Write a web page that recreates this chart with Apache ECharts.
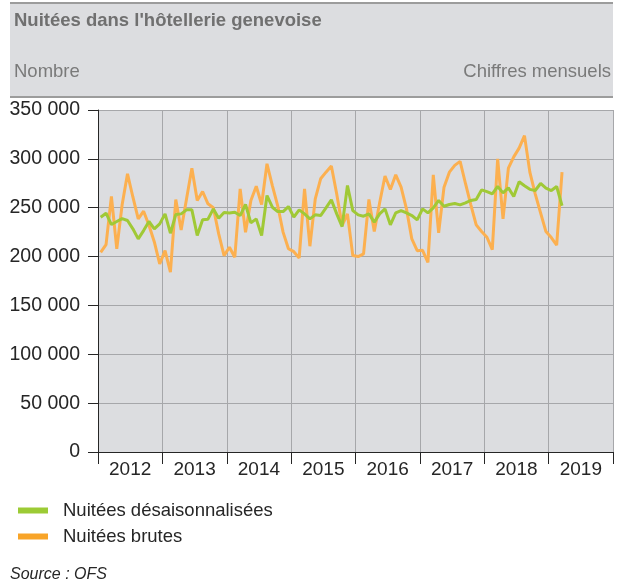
<!DOCTYPE html>
<html>
<head>
<meta charset="utf-8">
<script src="https://cdn.jsdelivr.net/npm/echarts@6/dist/echarts.min.js"></script>
<style>
  html, body { margin: 0; padding: 0; background: #fff; }
  #chart { width: 622px; height: 582px; }
</style>
</head>
<body>
<div id="chart"></div>
<script>
// years shown on the x axis, data is monthly from Jan 2012 to Mar 2019
var years = ['2012', '2013', '2014', '2015', '2016', '2017', '2018', '2019']

// Nuitées désaisonnalisées (green)
var desaison = [
  240300, 244400, 232800, 235900, 238900, 236900, 228400, 218100, 226600, 235900, 228400, 233500,
  243700, 223900, 243000, 243700, 247800, 247800, 221500, 237600, 238300, 248800, 239300, 245100,
  244700, 245400, 242000, 253300, 234500, 238600, 221500, 262500, 250500, 246000, 246000, 251200,
  240300, 247800, 243700, 238600, 242700, 242000, 249900, 258000, 243700, 230700, 272700, 247000,
  242700, 241300, 243700, 235200, 243700, 248800, 232500, 244700, 247100, 244700, 242000, 237600,
  248800, 244700, 249900, 257400, 251500, 253300, 254300, 252900, 255000, 257400, 258400, 268200,
  266500, 264200, 271700, 265200, 270300, 261400, 276500, 272400, 268800, 267600, 274800, 270000,
  267600, 271700, 252000
]

// Nuitées brutes (orange)
var brutes = [
  204400, 212300, 261500, 207900, 253000, 284700, 261000, 238600, 246400, 232000, 215000, 192500,
  206100, 184000, 258400, 227300, 259000, 290500, 257400, 266600, 254000, 249900, 223200, 201000,
  209600, 199300, 269300, 224900, 257400, 272000, 253300, 295000, 272700, 252000, 225000, 208000,
  205000, 198600, 269300, 210600, 259000, 279600, 286400, 292600, 264000, 231800, 243700, 201000,
  200000, 202700, 258400, 225600, 255000, 282400, 268600, 283700, 271000, 248800, 218000, 206000,
  206400, 194100, 283700, 224200, 271000, 286400, 293300, 297400, 274800, 253000, 232500, 225600,
  219800, 207100, 300100, 238600, 290600, 302000, 311000, 323800, 286400, 264200, 244700, 225600,
  219400, 211800, 286400
]

var months = []
for (var i = 0; i < years.length; i++) {
  for (var m = 1; m <= 12; m++) {
    months.push(years[i] + '-' + (m < 10 ? '0' + m : m))
  }
}

var gridColor = '#a6a7aa'
var textColor = '#262626'
var fontName = '"Liberation Sans", Arial, sans-serif'

function fmt(v) {
  return String(v).replace(/\B(?=(\d{3})+(?!\d))/g, ' ')
}

var chart = echarts.init(document.getElementById('chart'), null, { renderer: 'canvas' })

var option = {
  animation: false,
  textStyle: { fontFamily: fontName },
  graphic: [
    { type: 'rect', z: 0, shape: { x: 10, y: 3, width: 603, height: 94 }, style: { fill: '#dcdde0' } },
    { type: 'line', z: 1, shape: { x1: 10, y1: 3, x2: 613, y2: 3 }, style: { stroke: '#9c9c9c', lineWidth: 2 } },
    { type: 'line', z: 1, shape: { x1: 10, y1: 97, x2: 613, y2: 97 }, style: { stroke: '#9c9c9c', lineWidth: 2 } }
  ],
  title: [
    {
      text: "Nuitées dans l'hôtellerie genevoise",
      left: 14, top: 11, padding: 0,
      textStyle: { fontFamily: fontName, fontSize: 18.5, fontWeight: 'bold', color: '#707070' }
    },
    {
      text: 'Nombre',
      left: 14, top: 62, padding: 0,
      textStyle: { fontFamily: fontName, fontSize: 18.5, fontWeight: 'normal', color: '#7a7a7a' }
    },
    {
      text: 'Chiffres mensuels',
      right: 11, top: 62, padding: 0,
      textStyle: { fontFamily: fontName, fontSize: 18.5, fontWeight: 'normal', color: '#7a7a7a' }
    },
    {
      text: 'Source : OFS',
      left: 10, top: 567, padding: 0,
      textStyle: { fontFamily: fontName, fontSize: 16, fontWeight: 'normal', fontStyle: 'italic', color: textColor }
    }
  ],
  legend: {
    orient: 'vertical',
    left: 18, top: 501,
    padding: 0,
    itemWidth: 30, itemHeight: 6, itemGap: 7,
    icon: 'rect',
    textStyle: { fontFamily: fontName, fontSize: 18.5, color: textColor, padding: [0, 0, 0, 10] },
    data: [
      { name: 'Nuitées désaisonnalisées', itemStyle: { color: '#9ccb35' } },
      { name: 'Nuitées brutes', itemStyle: { color: '#f8a428' } }
    ]
  },
  grid: {
    left: 98, top: 110, width: 515, height: 342,
    show: true, backgroundColor: '#dcdde0', borderWidth: 0
  },
  xAxis: [
    {
      type: 'category',
      data: months,
      boundaryGap: true,
      axisLine: { show: true, lineStyle: { color: textColor, width: 1 } },
      axisTick: { show: false },
      axisLabel: { show: false },
      splitLine: { show: false }
    },
    {
      type: 'category',
      data: years,
      boundaryGap: true,
      position: 'bottom',
      axisLine: { show: false },
      axisTick: { show: true, length: 12, lineStyle: { color: textColor } },
      axisLabel: { fontFamily: fontName, fontSize: 19, color: textColor, margin: 8 },
      splitLine: { show: true, lineStyle: { color: gridColor, width: 1 } }
    }
  ],
  yAxis: {
    type: 'value',
    min: 0, max: 350000, interval: 50000,
    axisLine: { show: true, lineStyle: { color: textColor, width: 1 } },
    axisTick: { show: true, length: 10, lineStyle: { color: textColor } },
    axisLabel: { fontFamily: fontName, fontSize: 19.5, color: textColor, margin: 18, formatter: fmt },
    splitLine: { show: true, lineStyle: { color: gridColor, width: 1 } }
  },
  series: [
    {
      name: 'Nuitées désaisonnalisées',
      type: 'line',
      xAxisIndex: 0,
      data: desaison,
      symbol: 'none',
      lineStyle: { color: '#a0c936', width: 3 },
      itemStyle: { color: '#a0c936' },
      z: 3
    },
    {
      name: 'Nuitées brutes',
      type: 'line',
      xAxisIndex: 0,
      data: brutes,
      symbol: 'none',
      lineStyle: { color: '#fcb050', width: 3 },
      itemStyle: { color: '#fcb050' },
      z: 2
    }
  ]
}

chart.setOption(option)
</script>
</body>
</html>
